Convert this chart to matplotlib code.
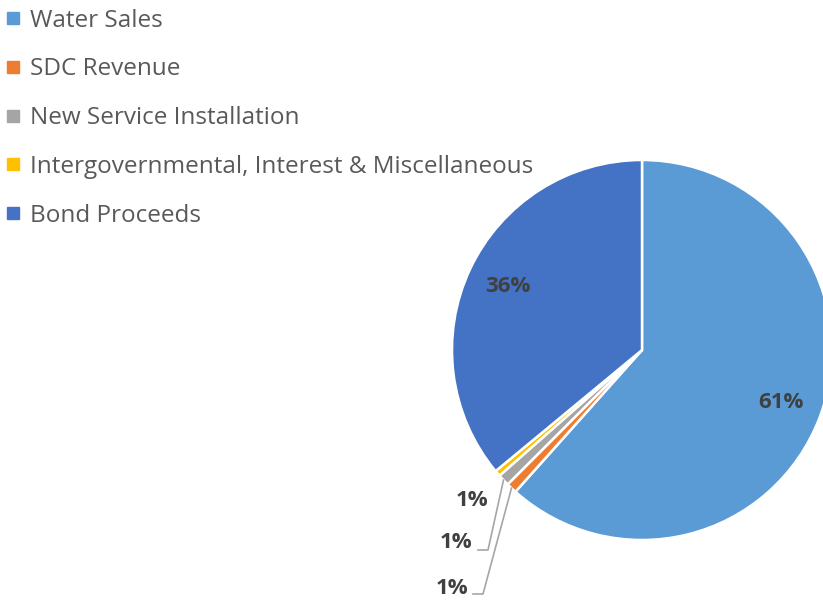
import numpy as np
import matplotlib.pyplot as plt
from matplotlib.lines import Line2D

categories = [
    "Water Sales",
    "SDC Revenue",
    "New Service Installation",
    "Intergovernmental, Interest & Miscellaneous",
    "Bond Proceeds",
]
shares = [61.6, 0.9, 1.0, 0.5, 36.0]
pct_labels = ["61%", "1%", "1%", "1%", "36%"]
colors = ["#5B9BD5", "#ED7D31", "#A5A5A5", "#FFC000", "#4472C4"]

plt.rcParams["font.family"] = ["Open Sans", "DejaVu Sans"]

W, H = 823, 603
fig = plt.figure(figsize=(W / 100, H / 100), dpi=100)
ax = fig.add_axes([0, 0, 1, 1])

cx, cy, R = 642, H - 350, 190
wedges, _ = ax.pie(
    shares, colors=colors, startangle=90, counterclock=False,
    center=(cx, cy), radius=R, frame=True,
    wedgeprops=dict(edgecolor="white", linewidth=1.8),
)
ax.set_xlim(0, W)
ax.set_ylim(0, H)
ax.set_aspect("equal")
ax.axis("off")

label_color = "#404040"
line_color = "#A6A6A6"
# big slices: label inside the wedge
for w, lab in zip(wedges, pct_labels):
    if lab in ("61%", "36%"):
        mid = np.deg2rad((w.theta1 + w.theta2) / 2)
        ax.text(cx + 0.78 * R * np.cos(mid), cy + 0.78 * R * np.sin(mid), lab,
                ha="center", va="center", fontsize=16, fontweight="bold", color=label_color)

# small slices: labels outside with leader lines (offsets from pie centre)
small = {
    3: dict(text=(-170, -150), elbow=None),
    2: dict(text=(-186, -193), elbow=[(-154, -200), (-164, -200)]),
    1: dict(text=(-190, -238), elbow=[(-159, -244), (-169, -244)]),
}
for i, spec in small.items():
    w = wedges[i]
    tx, ty = spec["text"]
    ax.text(cx + tx, cy + ty, pct_labels[i], ha="center", va="center",
            fontsize=16, fontweight="bold", color=label_color)
    if spec["elbow"]:
        mid = np.deg2rad((w.theta1 + w.theta2) / 2)
        xs = [cx + 1.0 * R * np.cos(mid)] + [cx + p[0] for p in spec["elbow"]]
        ys = [cy + 1.0 * R * np.sin(mid)] + [cy + p[1] for p in spec["elbow"]]
        ax.plot(xs, ys, color=line_color, lw=1.2)

handles = [Line2D([], [], marker="s", ls="none", markersize=8,
                  markerfacecolor=c, markeredgecolor=c) for c in colors]
ax.legend(handles, categories, loc="upper left", bbox_to_anchor=(-0.004, 1.0),
          frameon=False, fontsize=17.5, labelcolor="#595959",
          handlelength=0.6, handletextpad=0.4, labelspacing=1.02,
          borderaxespad=0.0, borderpad=0.35)

fig.savefig("out.png", dpi=100)
